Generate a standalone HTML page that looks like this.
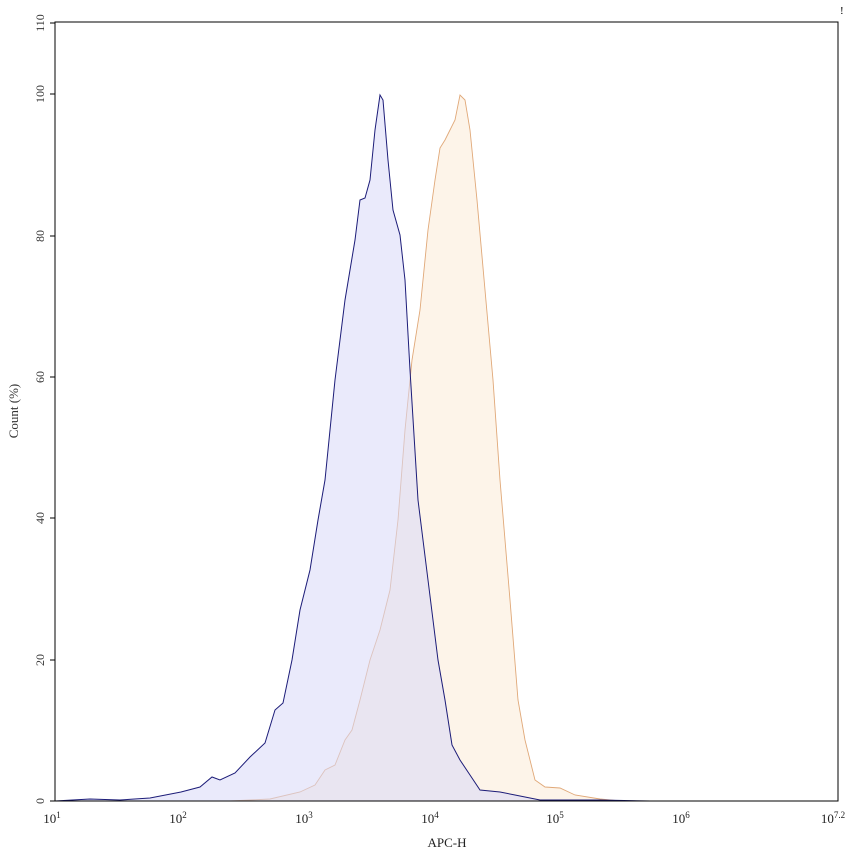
<!DOCTYPE html><html><head><style>body{margin:0;background:#fff}svg{display:block;font-family:"Liberation Serif",serif}</style></head><body>
<svg width="853" height="856" viewBox="0 0 853 856">
<rect x="55" y="22" width="783" height="779" fill="#fff" stroke="#000" stroke-width="1"/>
<path d="M230,801 L270,799 L300,792 L315,785 L325,770 L335,765 L345,740 L352,730 L360,700 L370,660 L380,630 L390,590 L398,520 L405,430 L412,360 L420,310 L428,230 L435,180 L440,148 L445,140 L450,130 L455,120 L460,95 L465,100 L470,130 L477,200 L485,290 L493,380 L500,480 L510,600 L518,700 L525,740 L535,780 L545,787 L560,788 L575,795 L600,799 L620,801 Z" fill="#fbe6cf" fill-opacity="0.45" stroke="#e0a878" stroke-width="0.9"/>
<path d="M55,801 L90,799 L120,800 L150,798 L181,792 L200,787 L212,777 L220,780 L235,773 L250,757 L265,743 L275,710 L283,703 L292,660 L300,610 L310,570 L318,520 L325,480 L335,380 L345,300 L355,240 L360,200 L365,198 L370,180 L375,130 L380,95 L383,100 L388,160 L393,210 L400,235 L405,280 L410,370 L418,500 L428,580 L438,660 L445,700 L452,745 L460,760 L470,775 L480,790 L500,792 L515,795 L540,800 L600,800 L650,801 Z" fill="#d8d8f8" fill-opacity="0.55" stroke="#1c1c78" stroke-width="1"/>
<line x1="55" y1="801" x2="838" y2="801" stroke="#000"/>
<line x1="55" y1="22" x2="55" y2="801" stroke="#000"/>
<g stroke="#000">
<line x1="50" y1="801" x2="55" y2="801"/><line x1="50" y1="660" x2="55" y2="660"/><line x1="50" y1="518" x2="55" y2="518"/><line x1="50" y1="377" x2="55" y2="377"/><line x1="50" y1="236" x2="55" y2="236"/><line x1="50" y1="94" x2="55" y2="94"/><line x1="50" y1="23" x2="55" y2="23"/>
</g>
<g font-size="12" fill="#333">
<text transform="translate(44,801) rotate(-90)" text-anchor="middle">0</text>
<text transform="translate(44,660) rotate(-90)" text-anchor="middle">20</text>
<text transform="translate(44,518) rotate(-90)" text-anchor="middle">40</text>
<text transform="translate(44,377) rotate(-90)" text-anchor="middle">60</text>
<text transform="translate(44,236) rotate(-90)" text-anchor="middle">80</text>
<text transform="translate(44,94) rotate(-90)" text-anchor="middle">100</text>
<text transform="translate(44,23) rotate(-90)" text-anchor="middle">110</text>
<text transform="translate(18,411) rotate(-90)" text-anchor="middle" font-size="13">Count  (%)</text>
</g>
<g stroke="#000" id="xt"></g>
<g font-size="13" fill="#222" text-anchor="middle">
<text x="52" y="823">10<tspan font-size="9" dy="-5">1</tspan></text>
<text x="178" y="823">10<tspan font-size="9" dy="-5">2</tspan></text>
<text x="304" y="823">10<tspan font-size="9" dy="-5">3</tspan></text>
<text x="430" y="823">10<tspan font-size="9" dy="-5">4</tspan></text>
<text x="555" y="823">10<tspan font-size="9" dy="-5">5</tspan></text>
<text x="681" y="823">10<tspan font-size="9" dy="-5">6</tspan></text>
<text x="833" y="823">10<tspan font-size="9" dy="-5">7.2</tspan></text>
<text x="447" y="847">APC-H</text>
</g>
<text x="840" y="14" font-size="11">!</text>
<script>
var g=document.getElementById('xt'),s='';
for(var d=1;d<8;d++){var x0=55+(d-1)*125.8;for(var m=1;m<10;m++){var x=x0+Math.log10(m)*125.8;if(x>838)break;var h=m==1?6:3;s+='<line x1="'+x+'" y1="801" x2="'+x+'" y2="'+(801-h)+'"/>';}}
s+='<line x1="838" y1="801" x2="838" y2="795"/>';
g.innerHTML=s;
</script>
</svg></body></html>
